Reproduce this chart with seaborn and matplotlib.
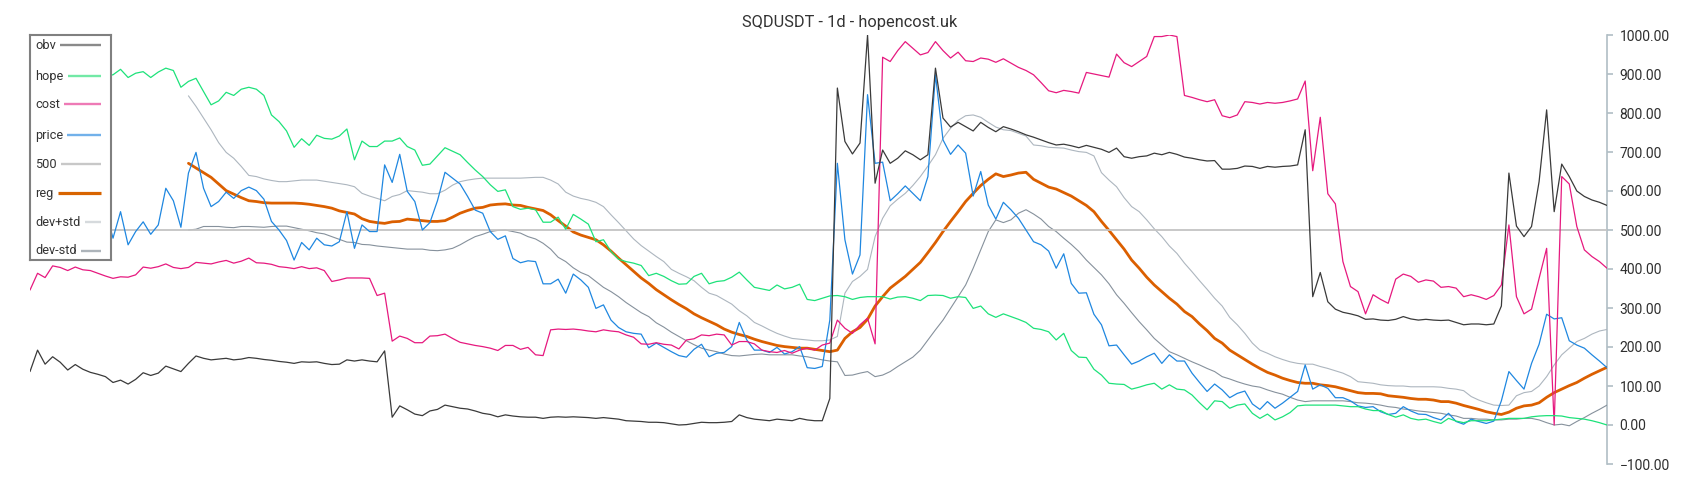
import matplotlib
matplotlib.use("Agg")
import matplotlib.pyplot as plt
import seaborn as sns
import numpy as np

TITLE = "SQDUSDT - 1d - hopencost.uk"
N_POINTS = 210
BAND_START = 21  # reg / dev bands only start once the window is full

obv = [137, 192, 156, 175, 161, 141, 155, 143, 135, 130, 124, 109, 115, 105, 117, 134, 127, 133, 151, 144,
       137, 158, 177, 171, 167, 169, 171, 167, 169, 173,
       171, 168, 166, 163, 161, 158, 162, 161, 162, 158, 155, 156, 167, 164, 167, 164, 162, 190, 20, 49,
       39, 28, 24, 36, 40, 51, 47, 43, 41, 36,
       30, 27, 21, 26, 23, 21, 20, 20, 17, 20, 21, 20, 21, 20, 19, 17, 19, 17, 15, 11,
       10, 9, 7, 7, 6, 3, 0, 1, 4, 7, 6,
       6, 7, 9, 26, 19, 15, 13, 11, 15, 13, 11, 17, 13, 11, 11, 68, 864, 727, 695, 723,
       1000, 620, 705, 671, 684, 703, 693, 680, 693, 915,
       787, 764, 776, 765, 754, 776, 763, 752, 765, 759, 752, 744, 738, 731, 724, 718, 720, 716, 711, 717,
       712, 707, 699, 710, 688, 684, 688, 690, 697, 693, 699,
       694, 687, 684, 680, 677, 678, 656, 656, 658, 664, 663, 658, 663, 661, 663, 664, 667, 757, 329, 391,
       316, 297, 289, 285, 280, 271, 272, 269, 268, 271,
       278, 272, 269, 271, 269, 268, 269, 263, 257, 259, 259, 257, 259, 305, 646, 510, 483, 509, 624, 808,
       547, 669, 637, 600, 586, 577, 571, 563]

hope = [990, 1000, 960, 930, 945, 920, 935, 910, 900, 905, 895,
        898, 912, 891, 902, 906, 891, 905, 915, 909, 866, 881, 889, 855, 821, 831, 853, 845, 861, 866,
        861, 845, 795, 778, 754, 712, 734, 717, 743, 735, 733, 741, 759, 680, 728, 714, 714, 728, 728, 736,
        714, 705, 666, 669, 690, 711, 702, 693, 673, 654,
        637, 616, 599, 603, 560, 553, 556, 552, 520, 520, 533, 502, 540, 528, 515, 470, 475, 445, 425, 419,
        415, 409, 383, 389, 381, 370, 361, 362, 381, 389, 362,
        368, 370, 379, 392, 372, 353, 349, 345, 359, 349, 353, 361, 322, 319, 325, 331, 332, 329, 322, 327,
        329, 329, 329, 323, 328, 329, 325, 319, 332, 333,
        332, 325, 329, 327, 299, 305, 285, 276, 285, 278, 271, 263, 248, 245, 239, 218, 235, 191, 174, 173,
        143, 128, 107, 105, 104, 92, 97, 103, 107, 92, 103,
        92, 90, 77, 57, 39, 62, 60, 43, 51, 54, 30, 17, 28, 13, 21, 32, 49, 51, 51, 51,
        51, 51, 49, 47, 47, 41, 37, 37, 27, 20,
        26, 17, 13, 15, 9, 4, 17, 10, 6, 11, 11, 11, 13, 15, 17, 17, 17, 21, 23, 24,
        24, 23, 19, 17, 15, 11, 6, 0]

cost = [346, 389, 378, 408, 404, 396, 405, 398, 396, 389, 382, 376, 380, 379, 385, 405, 402, 406, 413, 404,
        401, 404, 417, 415, 413, 418, 422, 415, 420, 428,
        416, 415, 412, 406, 404, 401, 406, 401, 403, 396, 368, 372, 377, 377, 377, 376, 332, 338, 215, 228,
        222, 211, 211, 228, 229, 233, 222, 212, 208, 204,
        201, 197, 191, 204, 204, 194, 199, 180, 178, 244, 246, 245, 246, 244, 241, 239, 244, 241, 239, 231,
        225, 208, 207, 211, 207, 205, 195, 218, 221, 231, 229,
        233, 231, 205, 214, 214, 208, 192, 188, 186, 191, 184, 192, 197, 192, 205, 210, 269, 248, 235, 257,
        274, 208, 943, 932, 960, 983, 966, 949, 955, 983,
        960, 941, 956, 934, 932, 941, 938, 930, 939, 928, 917, 909, 898, 878, 857, 852, 858, 855, 851, 904,
        900, 896, 892, 951, 929, 919, 932, 945, 996, 996, 1000,
        996, 845, 840, 834, 829, 834, 793, 788, 795, 829, 827, 823, 827, 825, 827, 831, 836, 882, 652, 789,
        593, 567, 419, 355, 342, 285, 334, 322, 312, 374,
        387, 381, 366, 372, 369, 353, 355, 351, 329, 334, 329, 322, 332, 359, 513, 329, 285, 297, 376, 453,
        0, 637, 618, 509, 449, 432, 419, 402]

price = [1000, 870, 820, 940, 960, 780, 800, 780, 650, 640, 550,
         479, 547, 462, 496, 521, 489, 513, 607, 575, 507, 646, 699, 607, 560, 573, 597, 581, 601, 610,
         601, 579, 522, 500, 473, 423, 468, 449, 479, 462, 459, 470, 547, 453, 513, 496, 496, 667, 622, 694,
         599, 573, 500, 519, 575, 648, 633, 618, 586, 551,
         543, 496, 476, 485, 427, 416, 421, 419, 362, 362, 374, 338, 387, 372, 353, 299, 308, 269, 250, 239,
         235, 233, 198, 210, 199, 188, 178, 174, 194, 207, 175,
         184, 186, 201, 263, 218, 192, 192, 186, 199, 182, 188, 201, 147, 145, 150, 269, 671, 475, 387, 436,
         847, 671, 674, 575, 593, 613, 594, 575, 637, 898,
         731, 694, 718, 697, 587, 650, 564, 528, 571, 552, 530, 500, 470, 462, 446, 402, 439, 363, 338, 339,
         284, 257, 203, 205, 180, 156, 164, 175, 184, 158, 180,
         164, 164, 133, 109, 86, 105, 90, 70, 81, 87, 54, 40, 60, 43, 56, 71, 86, 154, 92, 103,
         94, 70, 70, 62, 49, 45, 47, 34, 27, 30,
         47, 36, 28, 27, 19, 13, 30, 9, 2, 15, 9, 4, 10, 62, 137, 114, 92, 158, 207, 284,
         272, 275, 216, 205, 197, 180, 164, 147]

level_500 = [500] * N_POINTS

reg = [671, 659, 647, 635, 618, 601, 592, 583, 575,
       573, 570, 569, 569, 569, 569, 568, 566, 563, 560, 556, 549, 545, 541, 529, 522, 519, 517, 521, 522,
       528, 526, 524, 522, 522, 524, 533, 543, 550, 556,
       558, 564, 566, 567, 564, 563, 558, 554, 550, 539, 524, 510, 495, 487, 481, 475, 462, 446, 428, 411,
       394, 377, 363, 347, 334, 321, 309, 298, 285, 275, 266,
       257, 246, 238, 232, 227, 220, 214, 209, 204, 201, 199, 197, 197, 194, 191, 188, 192, 222, 239, 250,
       271, 305, 329, 351, 366, 381, 399, 417, 442, 468,
       496, 522, 547, 573, 594, 614, 630, 644, 637, 641, 646, 648, 630, 620, 610, 605, 596, 587, 575, 563,
       547, 522, 499, 475, 451, 423, 402, 379, 359, 342, 325,
       310, 291, 278, 259, 242, 222, 210, 192, 180, 168, 156, 145, 135, 128, 120, 114, 109, 107, 107, 103,
       101, 98, 93, 88, 83, 81, 81, 80, 75, 73,
       71, 68, 66, 66, 64, 60, 60, 56, 50, 45, 40, 34, 30, 27, 33, 43, 49, 51, 57, 71,
       83, 92, 101, 109, 120, 130, 139, 148]

dev_plus = [844, 817, 787, 757, 724, 699, 684, 663, 640,
            637, 631, 627, 624, 624, 626, 628, 628, 628, 625, 622, 619, 616, 611, 594, 587, 581, 575, 586, 591,
            601, 599, 597, 593, 593, 602, 615, 624, 628, 631,
            633, 633, 633, 633, 633, 633, 634, 635, 635, 628, 618, 597, 587, 581, 577, 571, 560, 539, 519, 498,
            477, 460, 446, 432, 419, 399, 389, 380, 370, 353, 338,
            332, 321, 310, 293, 280, 263, 254, 244, 235, 228, 222, 220, 218, 216, 216, 218, 227, 338, 368, 381,
            399, 483, 530, 562, 579, 594, 614, 637, 664, 693,
            735, 761, 781, 793, 795, 789, 776, 764, 757, 755, 748, 741, 718, 716, 712, 711, 710, 705, 701, 699,
            690, 647, 628, 611, 583, 560, 547, 526, 503, 483, 459,
            440, 415, 393, 370, 348, 325, 305, 276, 257, 235, 210, 192, 184, 175, 168, 162, 158, 156, 156, 150,
            145, 139, 133, 124, 111, 109, 107, 103, 101, 100,
            100, 98, 98, 98, 98, 97, 94, 92, 88, 73, 64, 57, 51, 50, 51, 75, 83, 86, 100, 124,
            154, 180, 197, 214, 222, 233, 241, 245]

dev_minus = [500, 502, 509, 509, 509, 507, 506, 509, 509,
             508, 507, 509, 510, 510, 506, 502, 498, 493, 490, 483, 476, 469, 468, 463, 462, 459, 457, 455, 453,
             451, 451, 451, 448, 447, 449, 453, 462, 473, 483,
             489, 496, 499, 500, 496, 492, 483, 477, 466, 451, 430, 419, 403, 391, 383, 368, 353, 342, 329, 314,
             301, 288, 278, 262, 251, 238, 227, 216, 206, 197, 192,
             188, 182, 178, 177, 179, 181, 182, 180, 180, 180, 180, 177, 175, 171, 167, 164, 162, 127, 128, 133,
             137, 124, 128, 137, 150, 162, 174, 192, 218, 244,
             269, 299, 329, 359, 402, 449, 496, 526, 519, 526, 543, 552, 541, 528, 509, 496, 479, 463, 445, 423,
             404, 385, 362, 334, 312, 288, 265, 244, 222, 205, 188,
             180, 171, 162, 154, 145, 137, 124, 118, 111, 105, 100, 97, 90, 84, 79, 71, 64, 60, 62, 62,
             62, 62, 62, 60, 57, 56, 54, 51, 47, 45,
             41, 39, 36, 34, 32, 30, 26, 23, 17, 17, 15, 15, 13, 13, 15, 15, 17, 17, 13, 6,
             0, 2, -2, 9, 19, 30, 40, 51]

# name, values, line colour, legend colour, width  (legend order; first one ends up on top)
SERIES = [
    ("obv", obv, "#3a3a3a", "#8a8a8a", 0.9),
    ("hope", hope, "#1de27a", "#72e9a6", 0.9),
    ("cost", cost, "#e6197f", "#ee7ab6", 0.9),
    ("price", price, "#1f87e0", "#72b1ea", 0.9),
    ("500", level_500, "#c4c4c4", "#c8c8c8", 1.3),
    ("reg", reg, "#db5f00", "#d86400", 2.0),
    ("dev+std", dev_plus, "#adb6bf", "#d6dadd", 0.8),
    ("dev-std", dev_minus, "#86919c", "#adb4ba", 0.8),
]

sns.set_theme(style="white")
plt.rcParams["font.family"] = ["Roboto", "DejaVu Sans"]

fig = plt.figure(figsize=(17, 5), dpi=100)
ax = fig.add_axes([30 / 1700, 36 / 500, 1577 / 1700, 429 / 500])

for k, (name, vals, color, _, lw) in reversed(list(enumerate(SERIES))):
    start = N_POINTS - len(vals)
    xs = np.arange(start, N_POINTS)
    sns.lineplot(x=xs, y=vals, ax=ax, color=color, linewidth=lw,
                 estimator=None, sort=False, legend=False, zorder=10 - k)

ax.set_xlim(0, N_POINTS - 1)
ax.set_ylim(-100, 1000)
ax.set_xticks([])
ax.set_yticks(np.arange(-100, 1001, 100))
ax.yaxis.set_major_formatter(matplotlib.ticker.StrMethodFormatter("{x:.2f}"))
ax.yaxis.tick_right()
for side in ["left", "top", "bottom"]:
    ax.spines[side].set_visible(False)
ax.spines["right"].set_color("#b0bec5")
ax.spines["right"].set_linewidth(1.2)
ax.tick_params(axis="y", direction="out", length=4, width=1.2, color="#b0bec5",
               labelcolor="#2e2e2e", labelsize=10, pad=5)
ax.set_facecolor("white")

fig.text(0.5, 1 - 22 / 500, TITLE, ha="center", va="center", fontsize=11.8, color="#333333")

# boxed legend: label on the left, sample line running to the right edge
lax = fig.add_axes([30 / 1700, (500 - 260) / 500, 81 / 1700, 225 / 500], zorder=20)
lax.set_xlim(0, 81)
lax.set_ylim(225, 0)
lax.set_xticks([])
lax.set_yticks([])
lax.set_facecolor("white")
for sp in lax.spines.values():
    sp.set_color("#808080")
    sp.set_linewidth(1.5)

row_y = [10, 41, 69, 100, 129, 158, 187, 216]
texts = []
for (name, _, _, _, _), yy in zip(SERIES, row_y):
    texts.append(lax.text(5.3, yy, name, ha="left", va="center", fontsize=9.2, color="#333333"))

fig.canvas.draw()
renderer = fig.canvas.get_renderer()
inv = lax.transData.inverted()
for t, (name, _, _, lcol, lw), yy in zip(texts, SERIES, row_y):
    bb = t.get_window_extent(renderer)
    x_end = inv.transform((bb.x1, bb.y0))[0]
    lax.plot([x_end + 4, 70.7], [yy, yy], color=lcol, linewidth=1.7 if name != "reg" else 2.3,
             solid_capstyle="butt")

fig.savefig("out.png", dpi=100, facecolor="white")
